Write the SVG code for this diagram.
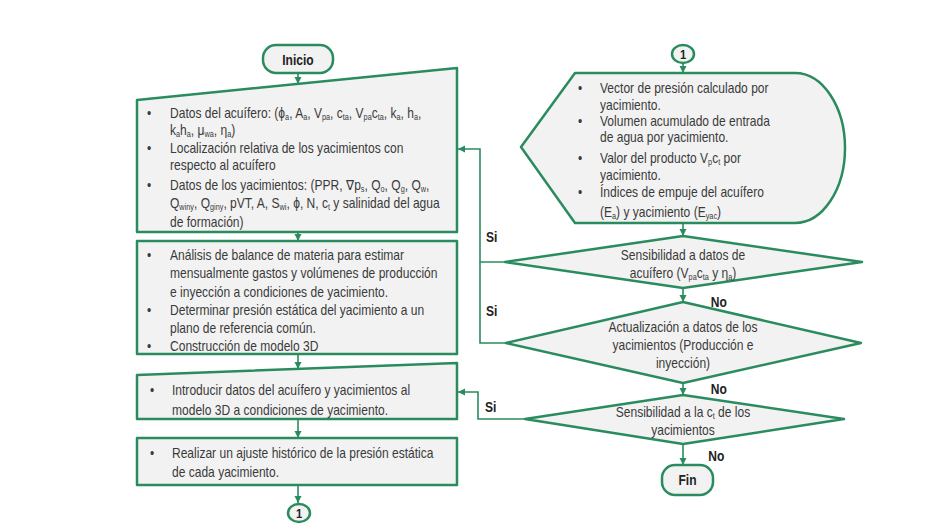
<svg xmlns="http://www.w3.org/2000/svg" width="946" height="530" viewBox="0 0 946 530">
<defs>
<style>
.sh{fill:#f2f2f2;stroke:#2a8c5e;stroke-width:2.5;stroke-linejoin:round}
.cn{fill:none;stroke:#2a8c5e;stroke-width:1.6}
text{font-family:"Liberation Sans",Arial,sans-serif;font-size:14px;fill:#3a3a3a}
.b{font-weight:bold;fill:#222}
.m{text-anchor:middle}
.s{font-size:8.5px;baseline-shift:-2.5px}
</style>
<marker id="ah" markerWidth="8" markerHeight="8" refX="7" refY="4" orient="auto" markerUnits="userSpaceOnUse">
<path d="M0,0.5 L7,4 L0,7.5 z" fill="#2a8c5e"/>
</marker>
</defs>
<rect width="946" height="530" fill="#ffffff"/>

<g id="inicio">
<rect class="sh" x="263" y="45" width="70" height="28" rx="13"/>
<g transform="matrix(0.86 0 0 1 41.72 0)"><text class="b m" x="298" y="65">Inicio</text></g>
</g>

<g id="box1">
<polygon class="sh" points="137,100 457,68 457,232 137,232"/>
<g transform="matrix(0.86 0 0 1 23.8 0)">
<text x="143.3" y="118">•</text>
<text x="170" y="118">Datos del acuífero: (ϕ<tspan class="s">a</tspan>, A<tspan class="s">a</tspan>, V<tspan class="s">pa</tspan>, c<tspan class="s">ta</tspan>, V<tspan class="s">pa</tspan>c<tspan class="s">ta</tspan>, k<tspan class="s">a</tspan>, h<tspan class="s">a</tspan>,</text>
<text x="170" y="135">k<tspan class="s">a</tspan>h<tspan class="s">a</tspan>, μ<tspan class="s">wa</tspan>, η<tspan class="s">a</tspan>)</text>
<text x="143.3" y="153">•</text>
<text x="170" y="153">Localización relativa de los yacimientos con</text>
<text x="170" y="170">respecto al acuífero</text>
<text x="143.3" y="190">•</text>
<text x="170" y="190">Datos de los yacimientos: (PPR, ∇p<tspan class="s">s</tspan>, Q<tspan class="s">o</tspan>, Q<tspan class="s">g</tspan>, Q<tspan class="s">w</tspan>,</text>
<text x="170" y="208">Q<tspan class="s">winy</tspan>, Q<tspan class="s">giny</tspan>, pVT, A, S<tspan class="s">wi</tspan>, ϕ, N, c<tspan class="s">t</tspan> y salinidad del agua</text>
<text x="170" y="227">de formación)</text>
</g>
</g>

<g id="box2">
<rect class="sh" x="137" y="241" width="320" height="113"/>
<g transform="matrix(0.86 0 0 1 23.8 0)">
<text x="143.3" y="260">•</text>
<text x="170" y="260">Análisis de balance de materia para estimar</text>
<text x="170" y="278">mensualmente gastos y volúmenes de producción</text>
<text x="170" y="297">e inyección a condiciones de yacimiento.</text>
<text x="143.3" y="315">•</text>
<text x="170" y="315">Determinar presión estática del yacimiento a un</text>
<text x="170" y="333">plano de referencia común.</text>
<text x="143.3" y="351">•</text>
<text x="170" y="351">Construcción de modelo 3D</text>
</g>
</g>

<g id="box3">
<polygon class="sh" points="137,375 457,363 457,419 137,419"/>
<g transform="matrix(0.86 0 0 1 24.08 0)">
<text x="146.4" y="395">•</text>
<text x="172" y="395">Introducir datos del acuífero y yacimientos al</text>
<text x="172" y="415">modelo 3D a condiciones de yacimiento.</text>
</g>
</g>

<g id="box4">
<rect class="sh" x="137" y="438" width="320" height="47"/>
<g transform="matrix(0.86 0 0 1 24.08 0)">
<text x="146.4" y="458">•</text>
<text x="172" y="458">Realizar un ajuste histórico de la presión estática</text>
<text x="172" y="477">de cada yacimiento.</text>
</g>
</g>

<g id="conn1-out">
<ellipse class="sh" cx="299" cy="513" rx="11" ry="9"/>
<g transform="matrix(0.86 0 0 1 41.86 0)"><text class="b m" x="299" y="518" style="font-size:13px">1</text></g>
</g>

<g id="conn1-in">
<ellipse class="sh" cx="683" cy="54" rx="11" ry="9"/>
<g transform="matrix(0.86 0 0 1 95.62 0)"><text class="b m" x="683" y="59" style="font-size:13px">1</text></g>
</g>

<g id="display">
<path class="sh" d="M521,147 L575,73 L795,73 A50,75 0 0 1 795,223 L575,223 Z"/>
<g transform="matrix(0.86 0 0 1 84 0)">
<text x="574.4" y="93">•</text>
<text x="600" y="93">Vector de presión calculado por</text>
<text x="600" y="110">yacimiento.</text>
<text x="574.4" y="126">•</text>
<text x="600" y="126">Volumen acumulado de entrada</text>
<text x="600" y="142">de agua por yacimiento.</text>
<text x="574.4" y="163">•</text>
<text x="600" y="163">Valor del producto V<tspan class="s">p</tspan>c<tspan class="s">t</tspan> por</text>
<text x="600" y="180">yacimiento.</text>
<text x="574.4" y="197">•</text>
<text x="600" y="197">Índices de empuje del acuífero</text>
<text x="600" y="217">(E<tspan class="s">a</tspan>) y yacimiento (E<tspan class="s">yac</tspan>)</text>
</g>
</g>

<g id="dec1">
<polygon class="sh" points="505,262 683,236 862,262 683,288"/>
<g transform="matrix(0.86 0 0 1 95.62 0)">
<text class="m" x="683" y="260">Sensibilidad a datos de</text>
<text class="m" x="683" y="278">acuífero (V<tspan class="s">pa</tspan>c<tspan class="s">ta</tspan> y η<tspan class="s">a</tspan>)</text>
</g>
</g>

<g id="dec2">
<polygon class="sh" points="506,343 683,302 861,343 683,383"/>
<g transform="matrix(0.86 0 0 1 95.62 0)">
<text class="m" x="683" y="332">Actualización a datos de los</text>
<text class="m" x="683" y="350">yacimientos (Producción e</text>
<text class="m" x="683" y="368">inyección)</text>
</g>
</g>

<g id="dec3">
<polygon class="sh" points="525,419 683,395 844,419 683,444"/>
<g transform="matrix(0.86 0 0 1 95.62 0)">
<text class="m" x="683" y="417">Sensibilidad a la c<tspan class="s">t</tspan> de los</text>
<text class="m" x="683" y="435">yacimientos</text>
</g>
</g>

<g id="fin">
<rect class="sh" x="662" y="465" width="51" height="30" rx="13"/>
<g transform="matrix(0.86 0 0 1 96.25 0)"><text class="b m" x="687.5" y="485">Fin</text></g>
</g>

<g id="connectors">
<line class="cn" x1="298" y1="74" x2="298" y2="84" marker-end="url(#ah)"/>
<line class="cn" x1="298" y1="232" x2="298" y2="241" marker-end="url(#ah)"/>
<line class="cn" x1="298" y1="354" x2="298" y2="369" marker-end="url(#ah)"/>
<line class="cn" x1="298" y1="419" x2="298" y2="438" marker-end="url(#ah)"/>
<line class="cn" x1="298" y1="485" x2="298" y2="503" marker-end="url(#ah)"/>
<line class="cn" x1="683" y1="63" x2="683" y2="73" marker-end="url(#ah)"/>
<line class="cn" x1="683" y1="223" x2="683" y2="236" marker-end="url(#ah)"/>
<line class="cn" x1="683" y1="288" x2="683" y2="302" marker-end="url(#ah)"/>
<line class="cn" x1="683" y1="383" x2="683" y2="395" marker-end="url(#ah)"/>
<line class="cn" x1="683" y1="444" x2="683" y2="465" marker-end="url(#ah)"/>
<polyline class="cn" points="505,262 480,262 480,149 458,149" marker-end="url(#ah)"/>
<polyline class="cn" points="506,343 480,343 480,262"/>
<polyline class="cn" points="525,419 478,419 478,392 458,392" marker-end="url(#ah)"/>
<g transform="matrix(0.86 0 0 1 68 0)">
<text class="b" x="486" y="242">Si</text>
<text class="b" x="486" y="316">Si</text>
<text class="b" x="485" y="412">Si</text>
</g>
<g transform="matrix(0.86 0 0 1 99.4 0)">
<text class="b" x="711" y="307">No</text>
<text class="b" x="711" y="394">No</text>
<text class="b" x="708" y="461">No</text>
</g>
</g>
</svg>
